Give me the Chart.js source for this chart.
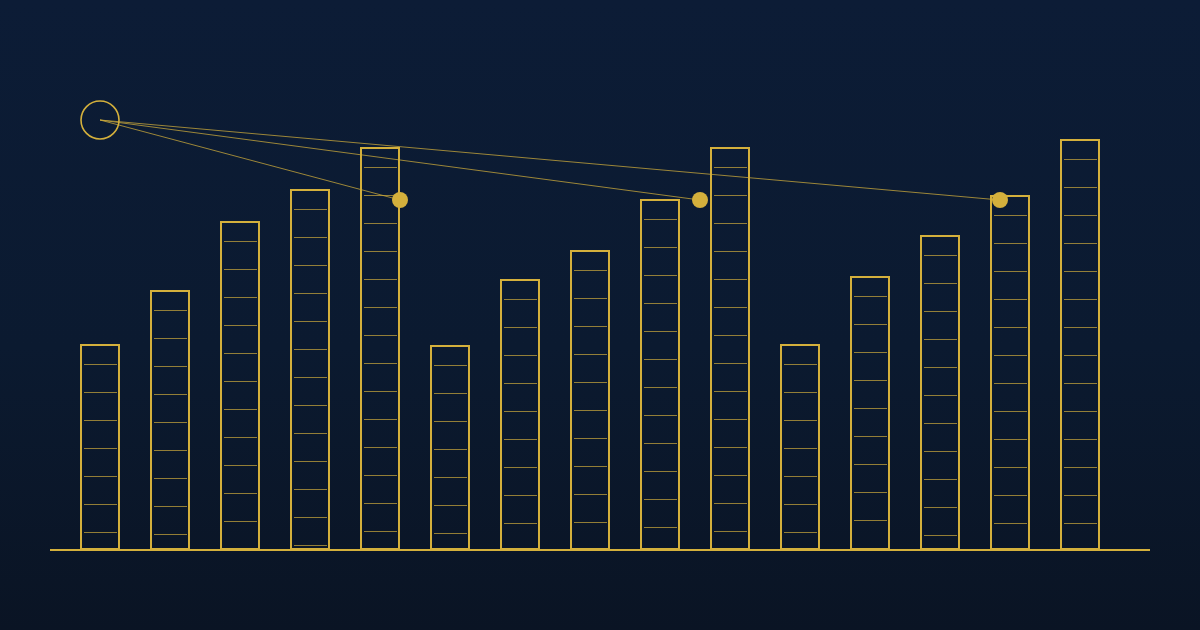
<!DOCTYPE html>
<html>
<head>
<meta charset="utf-8">
<script src="https://cdn.jsdelivr.net/npm/chart.js@4"></script>
<style>
    html, body { margin: 0; padding: 0; }
    body {
        width: 1200px;
        height: 630px;
        overflow: hidden;
        background: linear-gradient(to bottom, #0c1c36 0%, #0b1a30 55%, #0a1424 100%);
    }
    #wrap { width: 1200px; height: 630px; }
</style>
</head>
<body>
<div id="wrap"><canvas id="chart" width="1200" height="630"></canvas></div>
<script>
// ---------------------------------------------------------
// DATA
// ---------------------------------------------------------
const categories = ['A1', 'A2', 'A3', 'A4', 'A5', 'B1', 'B2', 'B3', 'B4', 'B5', 'C1', 'C2', 'C3', 'C4', 'C5'];
const barValues = [206, 260, 329, 361, 403, 205, 271, 300, 351, 403, 206, 274, 315, 355, 411];

// overlay: one hub and three markers on a position axis
const hubPoint = { x: 1, y: 430 };
const markerX = [4, 7, 10];
const markerY = [350, 350, 350];
const baselineX = [0.5, 11.5];

const GOLD = '#d4b03c';
const GOLD_SOFT = 'rgba(212, 176, 60, 0.72)';
const STRIPE = 'rgba(212, 176, 60, 0.68)';

// ---------------------------------------------------------
// PLUGINS
// ---------------------------------------------------------
// horizontal rungs inside each bar, spaced in value units from the top
const rungsPlugin = {
    id: 'rungs',
    afterDatasetDraw(chart, args) {
        if (args.index !== 0) return;
        const ctx = chart.ctx;
        const yScale = chart.scales.y;
        const meta = chart.getDatasetMeta(0);
        ctx.save();
        ctx.strokeStyle = STRIPE;
        ctx.lineWidth = 1;
        meta.data.forEach((bar, i) => {
            const v = barValues[i];
            const left = bar.x - bar.width / 2 + 4;
            const right = bar.x + bar.width / 2 - 3;
            for (let val = v - 20; val > 0; val -= 28) {
                const y = Math.round(yScale.getPixelForValue(val)) + 0.5;
                ctx.beginPath();
                ctx.moveTo(left, y);
                ctx.lineTo(right, y);
                ctx.stroke();
            }
        });
        ctx.restore();
    }
};

// ---------------------------------------------------------
// CHART
// ---------------------------------------------------------
const connectorSets = markerX.map((mx, i) => ({
    type: 'scatter',
    xAxisID: 'x2',
    data: [hubPoint, { x: mx, y: markerY[i] }],
    showLine: true,
    borderColor: GOLD_SOFT,
    borderWidth: 1,
    pointRadius: 0,
    clip: false,
    order: 1
}));

new Chart(document.getElementById('chart'), {
    type: 'bar',
    data: {
        labels: categories,
        datasets: [
            {
                data: barValues,
                backgroundColor: 'rgba(0,0,0,0)',
                borderColor: GOLD,
                borderWidth: 2,
                borderSkipped: false,
                grouped: false,          // keep bars centred despite the extra x axis
                barPercentage: 1,
                categoryPercentage: 4 / 7,
                clip: false,
                order: 3
            },
            {
                type: 'scatter',
                xAxisID: 'x2',
                data: baselineX.map(x => ({ x: x, y: 0 })),
                showLine: true,
                borderColor: GOLD,
                borderWidth: 2,
                pointRadius: 0,
                clip: false,
                order: 2
            },
            ...connectorSets,
            {
                type: 'scatter',
                xAxisID: 'x2',
                data: [hubPoint],
                pointRadius: 19,
                pointBorderWidth: 1.6,
                pointBorderColor: GOLD,
                pointBackgroundColor: 'rgba(0,0,0,0)',
                clip: false,
                order: 0
            },
            {
                type: 'scatter',
                xAxisID: 'x2',
                data: markerX.map((x, i) => ({ x: x, y: markerY[i] })),
                pointRadius: 8,
                pointBorderWidth: 0,
                pointBackgroundColor: GOLD,
                clip: false,
                order: 0
            }
        ]
    },
    options: {
        responsive: false,
        animation: false,
        layout: {
            autoPadding: false,
            padding: { left: 65, right: 85, top: 0, bottom: 80 }
        },
        plugins: {
            legend: { display: false },
            tooltip: { enabled: false }
        },
        scales: {
            x: { display: false, offset: true },
            x2: { type: 'linear', display: false, offset: false, min: 0.65, max: 11.15 },
            y: { display: false, min: 0, max: 550 }
        }
    },
    plugins: [rungsPlugin]
});
</script>
</body>
</html>
